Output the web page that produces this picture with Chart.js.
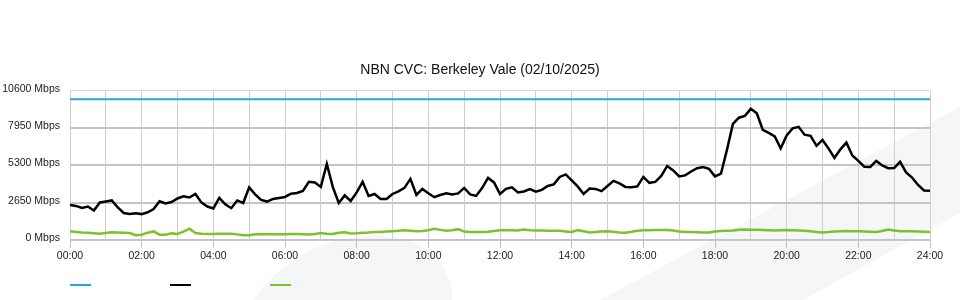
<!DOCTYPE html>
<html>
<head>
<meta charset="utf-8">
<script src="https://cdn.jsdelivr.net/npm/chart.js@4/dist/chart.umd.min.js"></script>
<style>
  body { margin: 0; background: #fff; }
</style>
</head>
<body>
<canvas id="chart" width="960" height="300"></canvas>
<script>
// sample times in minutes after midnight, every 10 minutes, 00:00 .. 24:00
const minutes = [];
for (let m = 0; m <= 1440; m += 10) minutes.push(m);

const yTicks = [0, 2650, 5300, 7950, 10600];
const capacityMbps = 10000;

const downloadMbps = [
  2490, 2420, 2280, 2380, 2100, 2670, 2740, 2810, 2310, 1920, 1850, 1900,
  1840, 1970, 2200, 2750, 2600, 2700, 2950, 3100, 3020, 3270, 2670, 2380,
  2240, 2990, 2530, 2260, 2810, 2630, 3740, 3240, 2850, 2730, 2920, 2990,
  3060, 3290, 3340, 3490, 4130, 4090, 3770, 5400, 3770, 2630, 3170, 2770,
  3380, 4130, 3130, 3270, 2920, 2920, 3270, 3450, 3700, 4340, 3200, 3630,
  3320, 3040, 3200, 3320, 3240, 3310, 3700, 3240, 3130, 3690, 4410, 4090,
  3270, 3630, 3740, 3380, 3450, 3610, 3440, 3560, 3840, 3950, 4480, 4660,
  4230, 3810, 3270, 3660, 3630, 3470, 3840, 4200, 4020, 3770, 3740, 3810,
  4480, 4060, 4130, 4550, 5260, 4940, 4520, 4590, 4870, 5100, 5190, 5050,
  4520, 4710, 6400, 8250, 8690, 8820, 9320, 9000, 7830, 7610, 7360, 6510,
  7430, 7930, 8040, 7480, 7400, 6690, 7110, 6510, 5830, 6440, 6920, 6010,
  5620, 5210, 5190, 5620, 5300, 5100, 5120, 5550, 4800, 4430, 3910, 3520,
  3490
];

const uploadMbps = [
  619, 570, 530, 519, 480, 450, 500, 548, 530, 510, 490, 340,
  380, 520, 610, 380, 370, 470, 430, 600, 800, 500, 440, 420,
  430, 440, 440, 450, 400, 330, 330, 400, 420, 405, 405, 405,
  410, 420, 425, 410, 390, 420, 500, 450, 430, 520, 550, 460,
  480, 510, 530, 560, 570, 600, 630, 660, 690, 660, 630, 640,
  700, 790, 720, 650, 700, 770, 600, 570, 570, 570, 590, 640,
  690, 700, 690, 680, 750, 700, 670, 670, 660, 662, 660, 610,
  569, 700, 620, 540, 560, 600, 619, 580, 540, 519, 580, 660,
  690, 700, 710, 710, 711, 680, 600, 569, 560, 550, 530, 540,
  600, 640, 660, 680, 720, 740, 730, 720, 711, 690, 670, 690,
  711, 700, 680, 662, 620, 570, 530, 560, 600, 630, 640, 630,
  619, 600, 580, 569, 640, 740, 680, 619, 619, 619, 600, 580,
  569
];

const fontFamily = "'Liberation Sans', Arial, Helvetica, sans-serif";

function hhmm(m) {
  return String(Math.floor(m / 60)).padStart(2, "0") + ":" + String(m % 60).padStart(2, "0");
}

// faint logo watermark behind the plot
const watermark = {
  id: "watermark",
  beforeDraw(chart) {
    const c = chart.ctx;
    c.save();
    c.fillStyle = "#f5f6f8";
    c.beginPath();
    c.moveTo(253, 300);
    c.quadraticCurveTo(300, 236, 375, 236);
    c.quadraticCurveTo(440, 236, 452, 290);
    c.lineTo(452, 300);
    c.closePath();
    c.fill();
    c.beginPath();
    c.moveTo(600, 300);
    c.lineTo(960, 107);
    c.lineTo(960, 213);
    c.lineTo(803, 300);
    c.closePath();
    c.fill();
    c.restore();
  }
};

// legend: coloured strokes only, no text
const strokeLegend = {
  id: "strokeLegend",
  afterDraw(chart) {
    const c = chart.ctx;
    c.save();
    chart.data.datasets.forEach((ds, i) => {
      const x = 70 + i * 100;
      c.strokeStyle = ds.borderColor;
      c.lineWidth = 2;
      c.beginPath();
      c.moveTo(x, 285);
      c.lineTo(x + 21, 285);
      c.stroke();
    });
    c.restore();
  }
};

const ctx = document.getElementById("chart").getContext("2d");

new Chart(ctx, {
  type: "line",
  data: {
    datasets: [
      {
        label: "Capacity",
        data: [
          { x: minutes[0], y: capacityMbps },
          { x: minutes[minutes.length - 1], y: capacityMbps }
        ],
        borderColor: "#24a6e0",
        borderWidth: 2,
        pointRadius: 0
      },
      {
        label: "Download",
        data: minutes.map((m, i) => ({ x: m, y: downloadMbps[i] })),
        borderColor: "#000000",
        borderWidth: 2.5,
        pointRadius: 0
      },
      {
        label: "Upload",
        data: minutes.map((m, i) => ({ x: m, y: uploadMbps[i] })),
        borderColor: "#7cc22b",
        borderWidth: 2.5,
        pointRadius: 0
      }
    ]
  },
  options: {
    responsive: false,
    animation: false,
    layout: { padding: { top: 62, right: 0, bottom: 0, left: 0 } },
    elements: { line: { tension: 0 } },
    plugins: {
      legend: { display: false },
      tooltip: { enabled: false },
      title: {
        display: true,
        text: "NBN CVC: Berkeley Vale (02/10/2025)",
        color: "#111",
        font: { family: fontFamily, size: 14, weight: "normal" },
        padding: { top: 0, bottom: 12 }
      }
    },
    scales: {
      x: {
        type: "linear",
        min: minutes[0],
        max: minutes[minutes.length - 1],
        afterFit: s => { s.height = 60; },
        border: { display: true, color: "#c8c8c8" },
        grid: {
          color: "#d0d0d0",
          tickColor: c => c.tick && c.tick.value % 120 === 0 ? "#c0c0c0" : "transparent",
          tickLength: 8
        },
        ticks: {
          stepSize: 60,
          autoSkip: false,
          maxRotation: 0,
          padding: 2,
          color: "#222",
          font: { family: fontFamily, size: 10.5 },
          callback: v => v % 120 === 0 ? hhmm(v) : ""
        }
      },
      y: {
        min: yTicks[0],
        max: yTicks[yTicks.length - 1],
        afterFit: s => { s.width = 70; },
        afterBuildTicks: s => { s.ticks = yTicks.map(v => ({ value: v })); },
        border: { display: false },
        grid: {
          drawTicks: false,
          color: c => c.index === yTicks.length - 1 ? "#d8d8d8" : "#c4c4c4",
          lineWidth: c => c.index === yTicks.length - 1 ? 1 : 2
        },
        ticks: {
          padding: 10,
          labelOffset: -2,
          color: "#222",
          font: { family: fontFamily, size: 10.5 },
          callback: v => v + " Mbps"
        }
      },
      // empty right-hand gutter so the title stays centred on the page
      gutter: {
        type: "linear",
        position: "right",
        afterFit: s => { s.width = 30; },
        border: { display: false },
        grid: { display: false },
        ticks: { display: false }
      }
    }
  },
  plugins: [watermark, strokeLegend]
});
</script>
</body>
</html>
